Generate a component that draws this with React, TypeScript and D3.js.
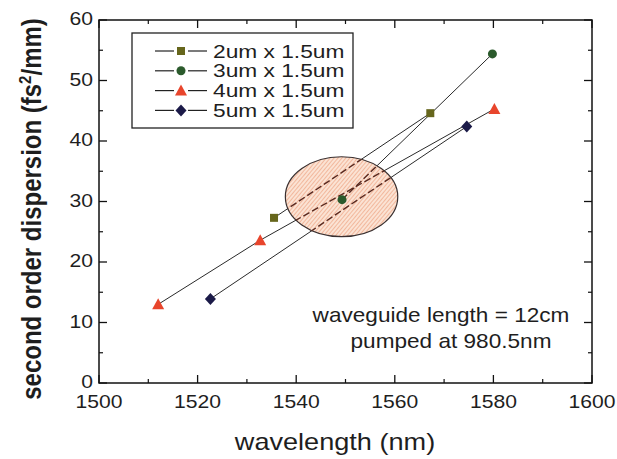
import React from "react";
import * as d3 from "d3";

const xTicks = [1500, 1520, 1540, 1560, 1580, 1600];
const yTicks = [0, 10, 20, 30, 40, 50, 60];
const xMinor = [1510, 1530, 1550, 1570, 1590];
const yMinor = [5, 15, 25, 35, 45, 55];

const names = ["2um x 1.5um", "3um x 1.5um", "4um x 1.5um", "5um x 1.5um"];
const s2x = [1535.5, 1567.2];
const s2y = [27.3, 44.6];
const s3x = [1549.3, 1579.8];
const s3y = [30.3, 54.4];
const s4x = [1512, 1532.7, 1580.2];
const s4y = [13.0, 23.6, 45.3];
const s5x = [1522.6, 1574.6];
const s5y = [13.9, 42.4];
const colors = ["#66661c", "#2b5a2c", "#e8452c", "#1b1a48"];
const shapes = ["square", "circle", "triangle", "diamond"];

const ellipseCx = 1549.2;
const ellipseCy = 30.8;
const ellipseRx = 11.4;
const ellipseRy = 6.6;

const annotation = ["waveguide length =  12cm", "pumped at 980.5nm"];

const W = 617, H = 459;
const L = 99, R = 592, T = 20, B = 383;
const SX = 1.13;

function Marker({ shape, x, y, color }: { shape: string; x: number; y: number; color: string }) {
  if (shape === "square") return <rect x={x - 4} y={y - 4} width={8} height={8} fill={color} />;
  if (shape === "circle") return <circle cx={x} cy={y} r={4.5} fill={color} />;
  if (shape === "triangle")
    return <path d={`M${x},${y - 6}L${x + 6},${y + 5}L${x - 6},${y + 5}Z`} fill={color} />;
  return <path d={`M${x},${y - 6}L${x + 5.5},${y}L${x},${y + 6}L${x - 5.5},${y}Z`} fill={color} />;
}

function Txt({ x, y, size, anchor, children, weight, sx }: any) {
  return (
    <text transform={`translate(${x},${y}) scale(${sx || SX},1)`} textAnchor={anchor || "start"} fontSize={size} fontWeight={weight || "normal"} fill="#1e1e1e">
      {children}
    </text>
  );
}

export default function App() {
  const x = d3.scaleLinear().domain([1500, 1600]).range([L, R]);
  const y = d3.scaleLinear().domain([0, 60]).range([B, T]);
  const series = [
    s2x.map((v, i) => [v, s2y[i]]),
    s3x.map((v, i) => [v, s3y[i]]),
    s4x.map((v, i) => [v, s4y[i]]),
    s5x.map((v, i) => [v, s5y[i]]),
  ];
  const line = d3.line<number[]>().x((d) => x(d[0])).y((d) => y(d[1]));
  const ecx = x(ellipseCx), ecy = y(ellipseCy);
  const erx = x(1500 + ellipseRx) - x(1500);
  const ery = y(0) - y(ellipseRy);
  const font = "'Liberation Sans', Arial, sans-serif";

  return (
    <svg width={W} height={H} style={{ position: "absolute", left: 0, top: 0, background: "#fff" }} fontFamily={font}>
      <defs>
        <pattern id="hatch" patternUnits="userSpaceOnUse" width={3} height={3} patternTransform="rotate(40)">
          <rect width={3} height={3} fill="#fbe3d4" />
          <line x1={0} y1={0} x2={0} y2={3} stroke="#ec9470" strokeWidth={1.1} />
        </pattern>
        <clipPath id="ell">
          <ellipse cx={ecx} cy={ecy} rx={erx} ry={ery} />
        </clipPath>
      </defs>
      {series.map((s, i) => (
        <path key={i} d={line(s) || ""} fill="none" stroke="#2a2a2a" strokeWidth={1} />
      ))}
      <ellipse cx={ecx} cy={ecy} rx={erx} ry={ery} fill="url(#hatch)" stroke="#3a3030" strokeWidth={1.2} />
      <g clipPath="url(#ell)">
        {series.map((s, i) => (
          <path key={i} d={line(s) || ""} fill="none" stroke="#5a2a20" strokeWidth={1.4} strokeDasharray="7,3" />
        ))}
      </g>
      {series.map((s, i) =>
        s.map((d, j) => <Marker key={`${i}-${j}`} shape={shapes[i]} x={x(d[0])} y={y(d[1])} color={colors[i]} />)
      )}
      <rect x={L} y={T} width={R - L} height={B - T} fill="none" stroke="#111" strokeWidth={1.5} />
      {xTicks.map((t) => (
        <g key={`xt${t}`}>
          <line x1={x(t)} x2={x(t)} y1={B} y2={B - 8} stroke="#111" strokeWidth={1.3} />
          <line x1={x(t)} x2={x(t)} y1={T} y2={T + 8} stroke="#111" strokeWidth={1.3} />
          <Txt x={x(t)} y={408} anchor="middle" size={18.7}>{t}</Txt>
        </g>
      ))}
      {xMinor.map((t) => (
        <g key={`xm${t}`}>
          <line x1={x(t)} x2={x(t)} y1={B} y2={B - 4} stroke="#111" strokeWidth={1.2} />
          <line x1={x(t)} x2={x(t)} y1={T} y2={T + 4} stroke="#111" strokeWidth={1.2} />
        </g>
      ))}
      {yTicks.map((t) => (
        <g key={`yt${t}`}>
          <line x1={L} x2={L + 8} y1={y(t)} y2={y(t)} stroke="#111" strokeWidth={1.3} />
          <line x1={R} x2={R - 8} y1={y(t)} y2={y(t)} stroke="#111" strokeWidth={1.3} />
          <Txt x={93} y={y(t) + 5} anchor="end" size={18.7}>{t}</Txt>
        </g>
      ))}
      {yMinor.map((t) => (
        <g key={`ym${t}`}>
          <line x1={L} x2={L + 4} y1={y(t)} y2={y(t)} stroke="#111" strokeWidth={1.2} />
          <line x1={R} x2={R - 4} y1={y(t)} y2={y(t)} stroke="#111" strokeWidth={1.2} />
        </g>
      ))}
      <Txt x={335} y={450} anchor="middle" size={24}>wavelength (nm)</Txt>
      <text transform={`translate(41,209) scale(${SX},1) rotate(-90)`} textAnchor="middle" fontSize={24} fontWeight="bold" fill="#1e1e1e">
        second order dispersion (fs<tspan dy={-9} fontSize={15}>2</tspan><tspan dy={9}>/mm)</tspan>
      </text>
      <rect x={132} y={33} width={221} height={95} fill="#fff" stroke="#222" strokeWidth={1.3} />
      {names.map((n, i) => {
        const ly = 51 + i * 19.8;
        return (
          <g key={n}>
            <line x1={155} x2={174} y1={ly} y2={ly} stroke="#222" strokeWidth={1.2} />
            <line x1={188} x2={207} y1={ly} y2={ly} stroke="#222" strokeWidth={1.2} />
            <Marker shape={shapes[i]} x={181} y={ly} color={colors[i]} />
            <Txt x={213} y={ly + 6.5} size={17.5} sx={1.3}>{n}</Txt>
          </g>
        );
      })}
      <Txt x={441} y={322} anchor="middle" size={20}>{annotation[0]}</Txt>
      <Txt x={451} y={348} anchor="middle" size={20}>{annotation[1]}</Txt>
    </svg>
  );
}
